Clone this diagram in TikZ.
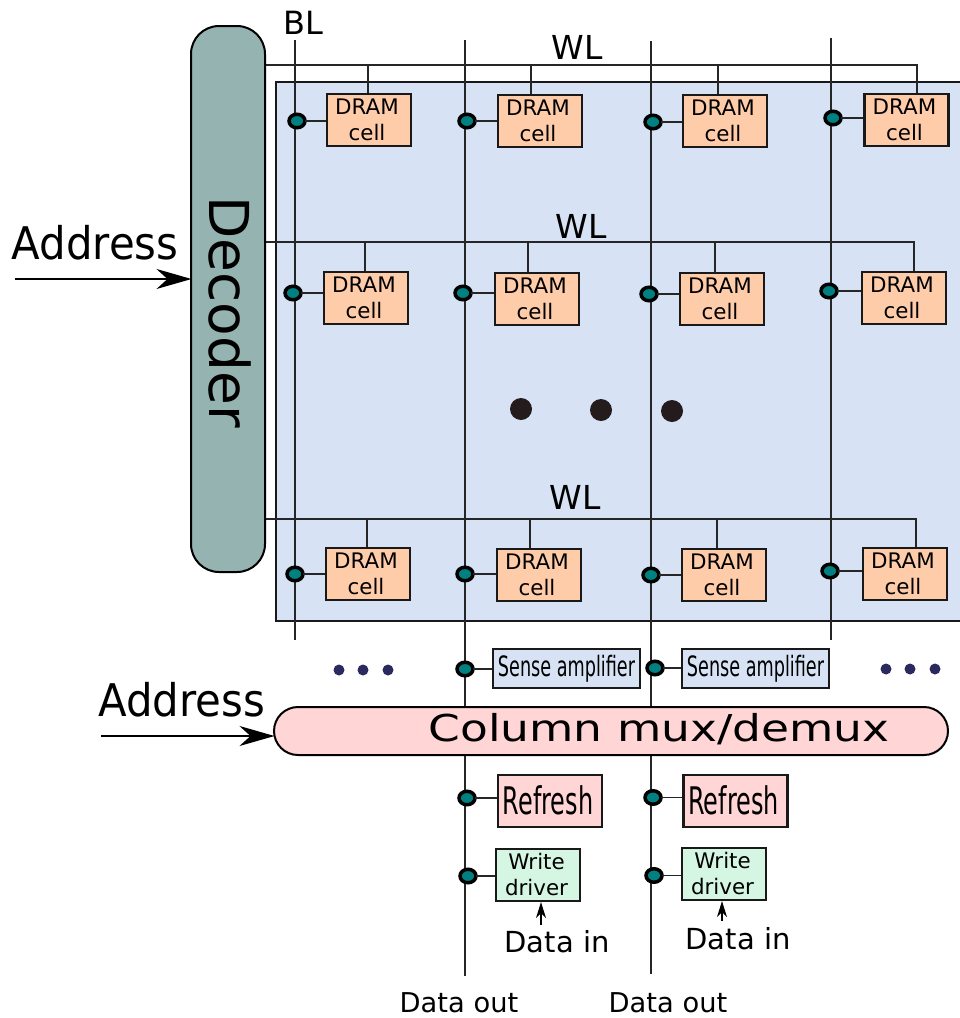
\documentclass[tikz,border=0pt]{standalone}
\usepackage{fontspec}
\usepackage{graphicx}
\setmainfont{DejaVu Sans}
\usetikzlibrary{arrows.meta,shapes.geometric}
\definecolor{panelblue}{HTML}{D7E3F4}
\definecolor{cellorange}{HTML}{FFCCAA}
\definecolor{decteal}{HTML}{95B3B0}
\definecolor{muxpink}{HTML}{FFD5D5}
\definecolor{drvgreen}{HTML}{D5F6E3}
\definecolor{gateteal}{HTML}{008080}
\definecolor{bigdot}{HTML}{241C1C}
\definecolor{smalldot}{HTML}{2A2A5E}
\newcommand{\fsz}[1]{\fontsize{#1}{#1}\selectfont}
\newcommand{\shl}{\hspace*{4pt}}
\tikzset{
  x=1pt,y=-1pt,
  wire/.style={line width=1.5pt,black!85},
  boxbase/.style={draw=black!90,line width=2.2pt,inner sep=0pt,align=center},
  cellbox/.style={boxbase,fill=cellorange,minimum width=84pt,minimum height=52pt,font=\fontsize{21.4}{26}\selectfont},
  drvbox/.style={boxbase,fill=drvgreen,minimum width=84pt,minimum height=52pt,font=\fontsize{21.4}{26}\selectfont},
  sensebox/.style={boxbase,fill=panelblue,minimum width=147pt,minimum height=39pt,font=\fsz{28}},
  refreshbox/.style={boxbase,fill=muxpink,minimum width=104pt,minimum height=52pt,font=\fsz{38}},
  gate/.style={ellipse,draw=black,line width=3.5pt,fill=gateteal,minimum width=16pt,minimum height=13.5pt,inner sep=0pt,outer sep=0pt},
  bigdotn/.style={circle,fill=bigdot,minimum size=22pt,inner sep=0pt},
  smalldotn/.style={circle,fill=smalldot,minimum size=11pt,inner sep=0pt},
  lab/.style={inner sep=0pt,text=black},
  bigarrow/.style={line width=1.5pt,-{Stealth[length=35pt,width=20pt,inset=11pt]},shorten >=-1.5pt},
  smallarrow/.style={line width=1.2pt,-{Stealth[length=16pt,width=10pt,inset=5pt]}},
}
\begin{document}
\begin{tikzpicture}
\useasboundingbox (0,0) rectangle (960,1018);
% panel
\fill[panelblue] (276,82) rectangle (960,621);
\draw[line width=2.2pt,black!90] (960,82) -- (276,82) -- (276,621) -- (960,621);
% bit lines
\foreach \n/\x/\t/\b in {1/295/40/640,2/465/40/976,3/651/41/974,4/831/38/640}{
  \coordinate (bl\n t) at (\x,\t);
  \coordinate (bl\n b) at (\x,\b);
  \draw[wire] (bl\n t) -- (bl\n b);
}
% word lines
\foreach \r/\y/\s/\e in {1/65/265/918,2/242/263/915,3/519/264/917}{
  \coordinate (wl\r s) at (\s,\y);
  \coordinate (wl\r e) at (\e,\y);
  \draw[wire] (wl\r s) -- (wl\r e);
}
% cells, gates, stubs
\foreach \id/\cx/\cy/\gx/\gy/\sx/\wy in {
  11/369/120/297/121/368/65, 12/540/121/467/121/531/65, 13/725/121/653/122/718/65, 14/906.5/120/833/118/917/65,
  21/366/298/293/293/365/242, 22/537/299/463/293/528/242, 23/722/299/649/294/715/242, 24/904/298/829/291/914/242,
  31/368/574/295/574/367/519, 32/539/575/465/574/530/519, 33/724/575/651/575/717/519, 34/905/574/830/571/916/519}{
  \node[cellbox] (c\id) at (\cx,\cy) {DRAM\shl\\cell\shl};
  \node[gate] (g\id) at (\gx,\gy) {};
  \coordinate (s\id) at (\sx,\wy);
  \draw[wire] (s\id) -- (s\id |- c\id.north);
  \draw[wire] (g\id.east) -- (g\id.east -| c\id.west);
}
% decoder
\node[draw=black,line width=2pt,fill=decteal,rounded corners=28pt,minimum width=74pt,minimum height=546pt,inner sep=0pt] (decoder) at (228,299) {};
\node[lab,rotate=-90,font=\fsz{55}] (dectext) at (230,312) {Decoder};
% column mux
\node[draw=black,line width=2pt,fill=muxpink,rounded corners=24pt,minimum width=674pt,minimum height=48pt,inner sep=0pt] (mux) at (611,731) {};
\node[lab,font=\fsz{37}] (muxtext) at (659,729) {\scalebox{1.23}[1]{Column mux/demux}};
% sense
\node[sensebox] (sa1) at (566.5,668.5) {\scalebox{.63}[1]{Sense amplifier}};
\node[sensebox] (sa2) at (755.5,668.5) {\scalebox{.63}[1]{Sense amplifier}};
\node[gate] (gs1) at (465,669) {};
\node[gate] (gs2) at (655,668) {};
\draw[wire] (gs1.east) -- (gs1.east -| sa1.west);
\draw[wire] (gs2.east) -- (gs2.east -| sa2.west);
% refresh
\node[refreshbox] (rf1) at (550,801) {\raisebox{1.5pt}{\scalebox{.63}[1]{Refresh}}\hspace*{4pt}};
\node[refreshbox] (rf2) at (735.5,801) {\raisebox{1.5pt}{\scalebox{.63}[1]{Refresh}}\hspace*{4pt}};
\node[gate] (gr1) at (467,798) {};
\node[gate] (gr2) at (653,797.5) {};
\draw[wire] (gr1.east) -- (gr1.east -| rf1.west);
\draw[wire] (gr2.east) -- (gr2.east -| rf2.west);
% write driver
\node[drvbox] (wd1) at (538,875) {\raisebox{2pt}{Write}\hspace*{3pt}\\[-2pt]driver\hspace*{3pt}};
\node[drvbox] (wd2) at (724,874) {\raisebox{2pt}{Write}\hspace*{3pt}\\[-2pt]driver\hspace*{3pt}};
\node[gate] (gw1) at (468,876) {};
\node[gate] (gw2) at (654,875.5) {};
\draw[wire] (gw1.east) -- (gw1.east -| wd1.west);
\draw[wire] (gw2.east) -- (gw2.east -| wd2.west);
% data in arrows
\coordinate (di1) at (541,925);
\coordinate (di2) at (722,921);
\draw[smallarrow] (di1) -- (di1 |- wd1.south);
\draw[smallarrow] (di2) -- (di2 |- wd2.south);
% address arrows
\coordinate (ad1) at (15,279);
\coordinate (ad2) at (101,736);
\draw[bigarrow] (ad1) -- (ad1 -| decoder.west);
\draw[bigarrow] (ad2) -- (ad2 -| mux.west);
% dots
\foreach \n/\x/\y in {1/521/409,2/601/410,3/672/411}{\node[bigdotn] (bd\n) at (\x,\y) {};}
\foreach \n/\x/\y in {1/339/670,2/363/670,3/388/670,4/886/669,5/910/669,6/935/669}{\node[smalldotn] (sd\n) at (\x,\y) {};}
% labels
\node[lab,font=\fsz{45}] (addr1) at (95,243) {\scalebox{.93}[1]{Address}};
\node[lab,font=\fsz{45}] (addr2) at (181.5,700) {\scalebox{.93}[1]{Address}};
\node[lab,font=\fsz{32}] (bl) at (303,23) {BL};
\node[lab,font=\fsz{33}] (wl1) at (577,47) {WL};
\node[lab,font=\fsz{33}] (wl2) at (581,226) {WL};
\node[lab,font=\fsz{33}] (wl3) at (575,497) {WL};
\node[lab,font=\fsz{29}] (din1) at (557,942) {Data in};
\node[lab,font=\fsz{29}] (din2) at (738,939) {Data in};
\node[lab,font=\fsz{27.3}] (dout1) at (459,1003) {Data out};
\node[lab,font=\fsz{27.3}] (dout2) at (668,1003) {Data out};
\end{tikzpicture}
\end{document}
